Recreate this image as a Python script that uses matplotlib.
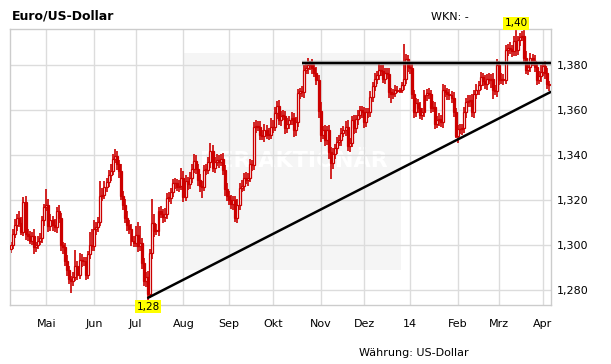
import matplotlib
matplotlib.use('Agg')
import matplotlib.pyplot as plt
import numpy as np
import pandas as pd
from matplotlib.patches import Rectangle
import matplotlib.transforms as mtransforms

# ---------------- data ----------------
start_date = '2013-04-08'
first_open = 1.2985

closes = [
    # Apr 2013
    1.3000, 1.3050, 1.3090, 1.3120, 1.3100, 1.3060, 1.3190, 1.3050, 1.3040, 1.3020,
    1.3040, 1.2990, 1.3000, 1.3020, 1.3030, 1.3110, 1.3170,
    # May
    1.3180, 1.3085, 1.3110, 1.3090, 1.3080, 1.3150, 1.3120, 1.3000, 1.2990, 1.2930,
    1.2890, 1.2850, 1.2840, 1.2860, 1.2910, 1.2870, 1.2935, 1.2930, 1.2930, 1.2870,
    1.2960, 1.3000, 1.2995,
    # Jun
    1.3070, 1.3080, 1.3105, 1.3220, 1.3225, 1.3260, 1.3280, 1.3310, 1.3330, 1.3385,
    1.3395, 1.3360, 1.3330, 1.3220, 1.3180, 1.3120, 1.3090, 1.3070, 1.3020, 1.3010,
    # Jul
    1.3045, 1.2995, 1.3010, 1.2920, 1.2840, 1.2860, 1.2785, 1.2965, 1.3100, 1.3065,
    1.3065, 1.3150, 1.3140, 1.3125, 1.3140, 1.3210, 1.3210, 1.3235, 1.3275, 1.3275,
    1.3260, 1.3265, 1.3300,
    # Aug
    1.3215, 1.3285, 1.3270, 1.3300, 1.3340, 1.3375, 1.3340, 1.3290, 1.3265, 1.3260,
    1.3335, 1.3335, 1.3370, 1.3420, 1.3345, 1.3370, 1.3380, 1.3370, 1.3385, 1.3335,
    1.3250, 1.3220,
    # Sep
    1.3200, 1.3185, 1.3200, 1.3120, 1.3180, 1.3255, 1.3265, 1.3300, 1.3290, 1.3300,
    1.3360, 1.3355, 1.3525, 1.3530, 1.3525, 1.3490, 1.3485, 1.3510, 1.3490, 1.3490,
    1.3525,
    # Oct
    1.3525, 1.3585, 1.3620, 1.3555, 1.3575, 1.3575, 1.3520, 1.3540, 1.3555, 1.3565,
    1.3510, 1.3545, 1.3675, 1.3685, 1.3680, 1.3780, 1.3785, 1.3800, 1.3805, 1.3785,
    1.3765, 1.3735, 1.3595,
    # Nov
    1.3490, 1.3510, 1.3465, 1.3510, 1.3415, 1.3365, 1.3405, 1.3430, 1.3460, 1.3465,
    1.3500, 1.3510, 1.3525, 1.3440, 1.3455, 1.3555, 1.3520, 1.3560, 1.3580, 1.3600,
    1.3590,
    # Dec
    1.3545, 1.3590, 1.3590, 1.3660, 1.3705, 1.3740, 1.3755, 1.3780, 1.3775, 1.3740,
    1.3765, 1.3760, 1.3680, 1.3670, 1.3675, 1.3690, 1.3685, 1.3690, 1.3710, 1.3740,
    1.3825, 1.3790,
    # Jan 2014
    1.3785, 1.3670, 1.3590, 1.3630, 1.3610, 1.3580, 1.3590, 1.3665, 1.3675, 1.3670,
    1.3610, 1.3615, 1.3540, 1.3555, 1.3560, 1.3545, 1.3690, 1.3680, 1.3670, 1.3665,
    1.3655, 1.3590, 1.3485,
    # Feb
    1.3515, 1.3515, 1.3520, 1.3590, 1.3635, 1.3640, 1.3645, 1.3590, 1.3670, 1.3690,
    1.3710, 1.3745, 1.3730, 1.3715, 1.3740, 1.3735, 1.3740, 1.3690, 1.3685, 1.3800,
    # Mar
    1.3735, 1.3740, 1.3735, 1.3865, 1.3875, 1.3870, 1.3860, 1.3905, 1.3865, 1.3910,
    1.3925, 1.3930, 1.3830, 1.3780, 1.3790, 1.3830, 1.3820, 1.3790, 1.3735, 1.3750,
    1.3770,
    # Apr
    1.3795, 1.3765, 1.3715, 1.3710,
]

# upper / lower wick lengths in pips (1e-4)
up_wick = [
    15, 20, 25, 20, 30, 25, 23, 30, 20, 25, 20, 30, 15, 20, 25, 20, 15,
    70, 25, 30, 20, 25, 20, 30, 25, 15, 20, 25, 20, 15, 20, 70, 20, 30, 25, 20, 20, 15, 60, 70,
    40, 25, 20, 65, 30, 25, 20, 25, 30, 20, 30, 25, 20, 30, 20, 25, 30, 20, 25, 20,
    40, 60, 75, 20, 25, 20, 25, 20, 107, 40, 30, 20, 25, 20, 25, 20, 25, 20, 20, 25, 20, 25, 45,
    30, 25, 20, 25, 20, 30, 25, 20, 25, 20, 20, 25, 20, 32, 25, 20, 25, 20, 20, 25, 20, 25,
    20, 25, 20, 20, 25, 20, 25, 20, 25, 20, 25, 20, 20, 25, 20, 25, 20, 30, 25, 30, 40,
    30, 30, 20, 25, 20, 25, 20, 25, 20, 25, 20, 25, 20, 15, 20, 20, 25, 32, 15, 20, 20, 25, 20,
    40, 20, 25, 20, 25, 20, 25, 20, 20, 25, 20, 20, 25, 30, 20, 20, 25, 20, 20, 20, 20,
    25, 20, 20, 25, 20, 25, 20, 25, 20, 25, 20, 20, 25, 20, 20, 20, 15, 10, 15, 153, 25, 20,
    20, 25, 20, 25, 20, 25, 20, 25, 20, 25, 20, 25, 20, 20, 25, 20, 25, 20, 20, 25, 20, 25, 20,
    20, 25, 20, 25, 20, 25, 20, 25, 20, 25, 20, 25, 20, 25, 20, 25, 20, 25, 20, 25,
    20, 25, 20, 25, 20, 25, 20, 25, 62, 20, 15, 20, 25, 30, 20, 25, 20, 25, 20, 25, 30,
    20, 25, 20, 15,
]
down_wick = [
    20, 15, 20, 25, 20, 15, 20, 25, 20, 15, 20, 30, 20, 15, 20, 20, 25,
    20, 25, 20, 25, 20, 25, 20, 25, 30, 20, 25, 20, 50, 20, 20, 25, 20, 25, 20, 25, 20, 20, 20,
    20, 25, 20, 20, 25, 20, 25, 20, 25, 20, 20, 25, 30, 20, 25, 20, 25, 20, 25, 20,
    20, 25, 20, 25, 20, 25, 30, 20, 25, 30, 20, 25, 20, 25, 20, 25, 20, 25, 20, 25, 20, 25, 20,
    25, 20, 25, 20, 25, 20, 25, 25, 30, 50, 20, 25, 20, 25, 20, 25, 20, 25, 20, 25, 30, 25,
    20, 25, 30, 15, 20, 25, 20, 25, 20, 25, 20, 25, 20, 25, 20, 25, 20, 25, 20, 25, 20,
    25, 20, 25, 20, 25, 20, 25, 20, 25, 20, 30, 25, 20, 25, 20, 25, 20, 25, 20, 25, 20, 25, 30,
    30, 20, 25, 20, 30, 70, 25, 20, 25, 20, 25, 20, 25, 20, 25, 20, 25, 20, 25, 20, 25,
    25, 20, 25, 20, 25, 20, 25, 20, 25, 20, 25, 20, 25, 40, 20, 15, 10, 10, 15, 20, 25, 20,
    25, 20, 25, 20, 25, 20, 25, 20, 25, 20, 25, 20, 25, 20, 25, 20, 25, 20, 25, 20, 25, 20, 10,
    30, 20, 25, 20, 25, 20, 25, 20, 25, 20, 25, 20, 25, 20, 25, 20, 35, 40, 20, 25,
    25, 20, 25, 20, 25, 20, 25, 20, 25, 20, 25, 20, 25, 20, 25, 20, 25, 20, 25, 20, 25,
    20, 25, 20, 25,
]

month_labels = ['Mai', 'Jun', 'Jul', 'Aug', 'Sep', 'Okt', 'Nov', 'Dez', '14', 'Feb', 'Mrz', 'Apr']
y_ticks = [1.28, 1.30, 1.32, 1.34, 1.36, 1.38]
y_tick_labels = ['1,280', '1,300', '1,320', '1,340', '1,360', '1,380']

resistance_level = 1.38075
resistance_start = '2013-10-21'
trend_dates = ['2013-07-09', '2014-04-04']
trend_values = [1.2767, 1.3677]

low_label = ('2013-07-09', '1,28')
high_label = ('2014-03-13', '1,40')

title = 'Euro/US-Dollar'
wkn_text = 'WKN: -'
currency_text = 'Währung: US-Dollar'
watermark = 'DER AKTIONÄR'

# ---------------- figure ----------------
W, H = 611, 364
RED = '#cc0000'
GRID = '#dcdcdc'

fig = plt.figure(figsize=(W / 100, H / 100), dpi=100)
fig.patch.set_facecolor('white')
ax_l, ax_r, ax_t, ax_b = 10.0, 550.7, 29.3, 304.7
ax = fig.add_axes([ax_l / W, 1 - ax_b / H, (ax_r - ax_l) / W, (ax_b - ax_t) / H])

dates = pd.bdate_range(start_date, periods=len(closes))
idx = np.arange(len(dates))
pos = {d.strftime('%Y-%m-%d'): i for i, d in enumerate(dates)}

c = np.array(closes)
o = np.array([first_open] + closes[:-1])
hi = np.maximum(o, c) + np.array(up_wick) * 1e-4
lo = np.minimum(o, c) - np.array(down_wick) * 1e-4

# background shaded watermark area
ax.add_patch(Rectangle((183.3 / W, 1 - 270 / H), (400.7 - 183.3) / W, (270 - 53.3) / H,
                       transform=fig.transFigure, facecolor='#f5f5f5', edgecolor='none',
                       zorder=0.2))
ax.text(293.5 / W, 1 - 161 / H, watermark, transform=fig.transFigure, color='white',
        fontsize=16, fontweight='bold', ha='center', va='center', zorder=0.3)

# grid
month_starts = [i for i in range(1, len(dates)) if dates[i].month != dates[i - 1].month]
ax.set_axisbelow(True)
ax.set_xticks(month_starts)
ax.set_xticklabels(month_labels)
ax.set_yticks(y_ticks)
ax.set_yticklabels(y_tick_labels)
ax.grid(True, color=GRID, linewidth=1.0)

# candles
ax.vlines(idx, lo, hi, color=RED, linewidth=1.2, zorder=2)
body_bottom = np.minimum(o, c)
body_h = np.maximum(np.abs(c - o), 0.0002)
faces = ['white' if cc > oo else RED for oo, cc in zip(o, c)]
ax.bar(idx, body_h, bottom=body_bottom, width=0.95, color=faces, edgecolor=RED,
       linewidth=0.9, zorder=3)

x_min = (ax_l - 10.97) / 2.078
x_max = (ax_r - 10.97) / 2.078
ax.set_xlim(x_min, x_max)
ax.set_ylim(1.27361, 1.39585)

# resistance line
rs = pos[resistance_start]
ax.plot([rs, x_max], [resistance_level, resistance_level], color='#9a9a9a', linewidth=3.2,
        alpha=0.7, solid_capstyle='butt', zorder=4)
ax.plot([rs, x_max], [resistance_level, resistance_level], color='black', linewidth=1.6,
        solid_capstyle='butt', zorder=5)

# trend line
tx = [pos[trend_dates[0]], pos[trend_dates[1]]]
slope = (trend_values[1] - trend_values[0]) / (tx[1] - tx[0])
ax.plot([tx[0], x_max], [trend_values[0], trend_values[0] + slope * (x_max - tx[0])],
        color='black', linewidth=1.8, solid_capstyle='round', zorder=5)

# value labels
blend = mtransforms.blended_transform_factory(ax.transData, ax.transAxes)
ax.text(pos[low_label[0]], (ax_b - 306.8) / (ax_b - ax_t), low_label[1], transform=blend,
        ha='center', va='center', fontsize=7.5, color='black', clip_on=False, zorder=6,
        bbox=dict(facecolor='#ffff00', edgecolor='none', boxstyle='square,pad=0.15'))
ax.text(pos[high_label[0]], (ax_b - 23.3) / (ax_b - ax_t), high_label[1], transform=blend,
        ha='center', va='center', fontsize=7.5, color='black', clip_on=False, zorder=6,
        bbox=dict(facecolor='#ffff00', edgecolor='none', boxstyle='square,pad=0.15'))

# axes styling
for s in ax.spines.values():
    s.set_color('#cccccc')
    s.set_linewidth(1.0)
ax.yaxis.tick_right()
ax.tick_params(axis='both', length=0, labelsize=8, colors='black')
ax.tick_params(axis='x', pad=10.5)
ax.tick_params(axis='y', pad=4.3)

# header / footer texts
fig.text(11.5 / W, 1 - 19.2 / H, title, fontsize=9, fontweight='bold', ha='left',
         va='baseline')
fig.text(431 / W, 1 - 19.5 / H, wkn_text, fontsize=8, ha='left', va='baseline')
fig.text(359.5 / W, 1 - 355.5 / H, currency_text, fontsize=8, ha='left', va='baseline')

fig.savefig('out.png', dpi=100, facecolor='white')
